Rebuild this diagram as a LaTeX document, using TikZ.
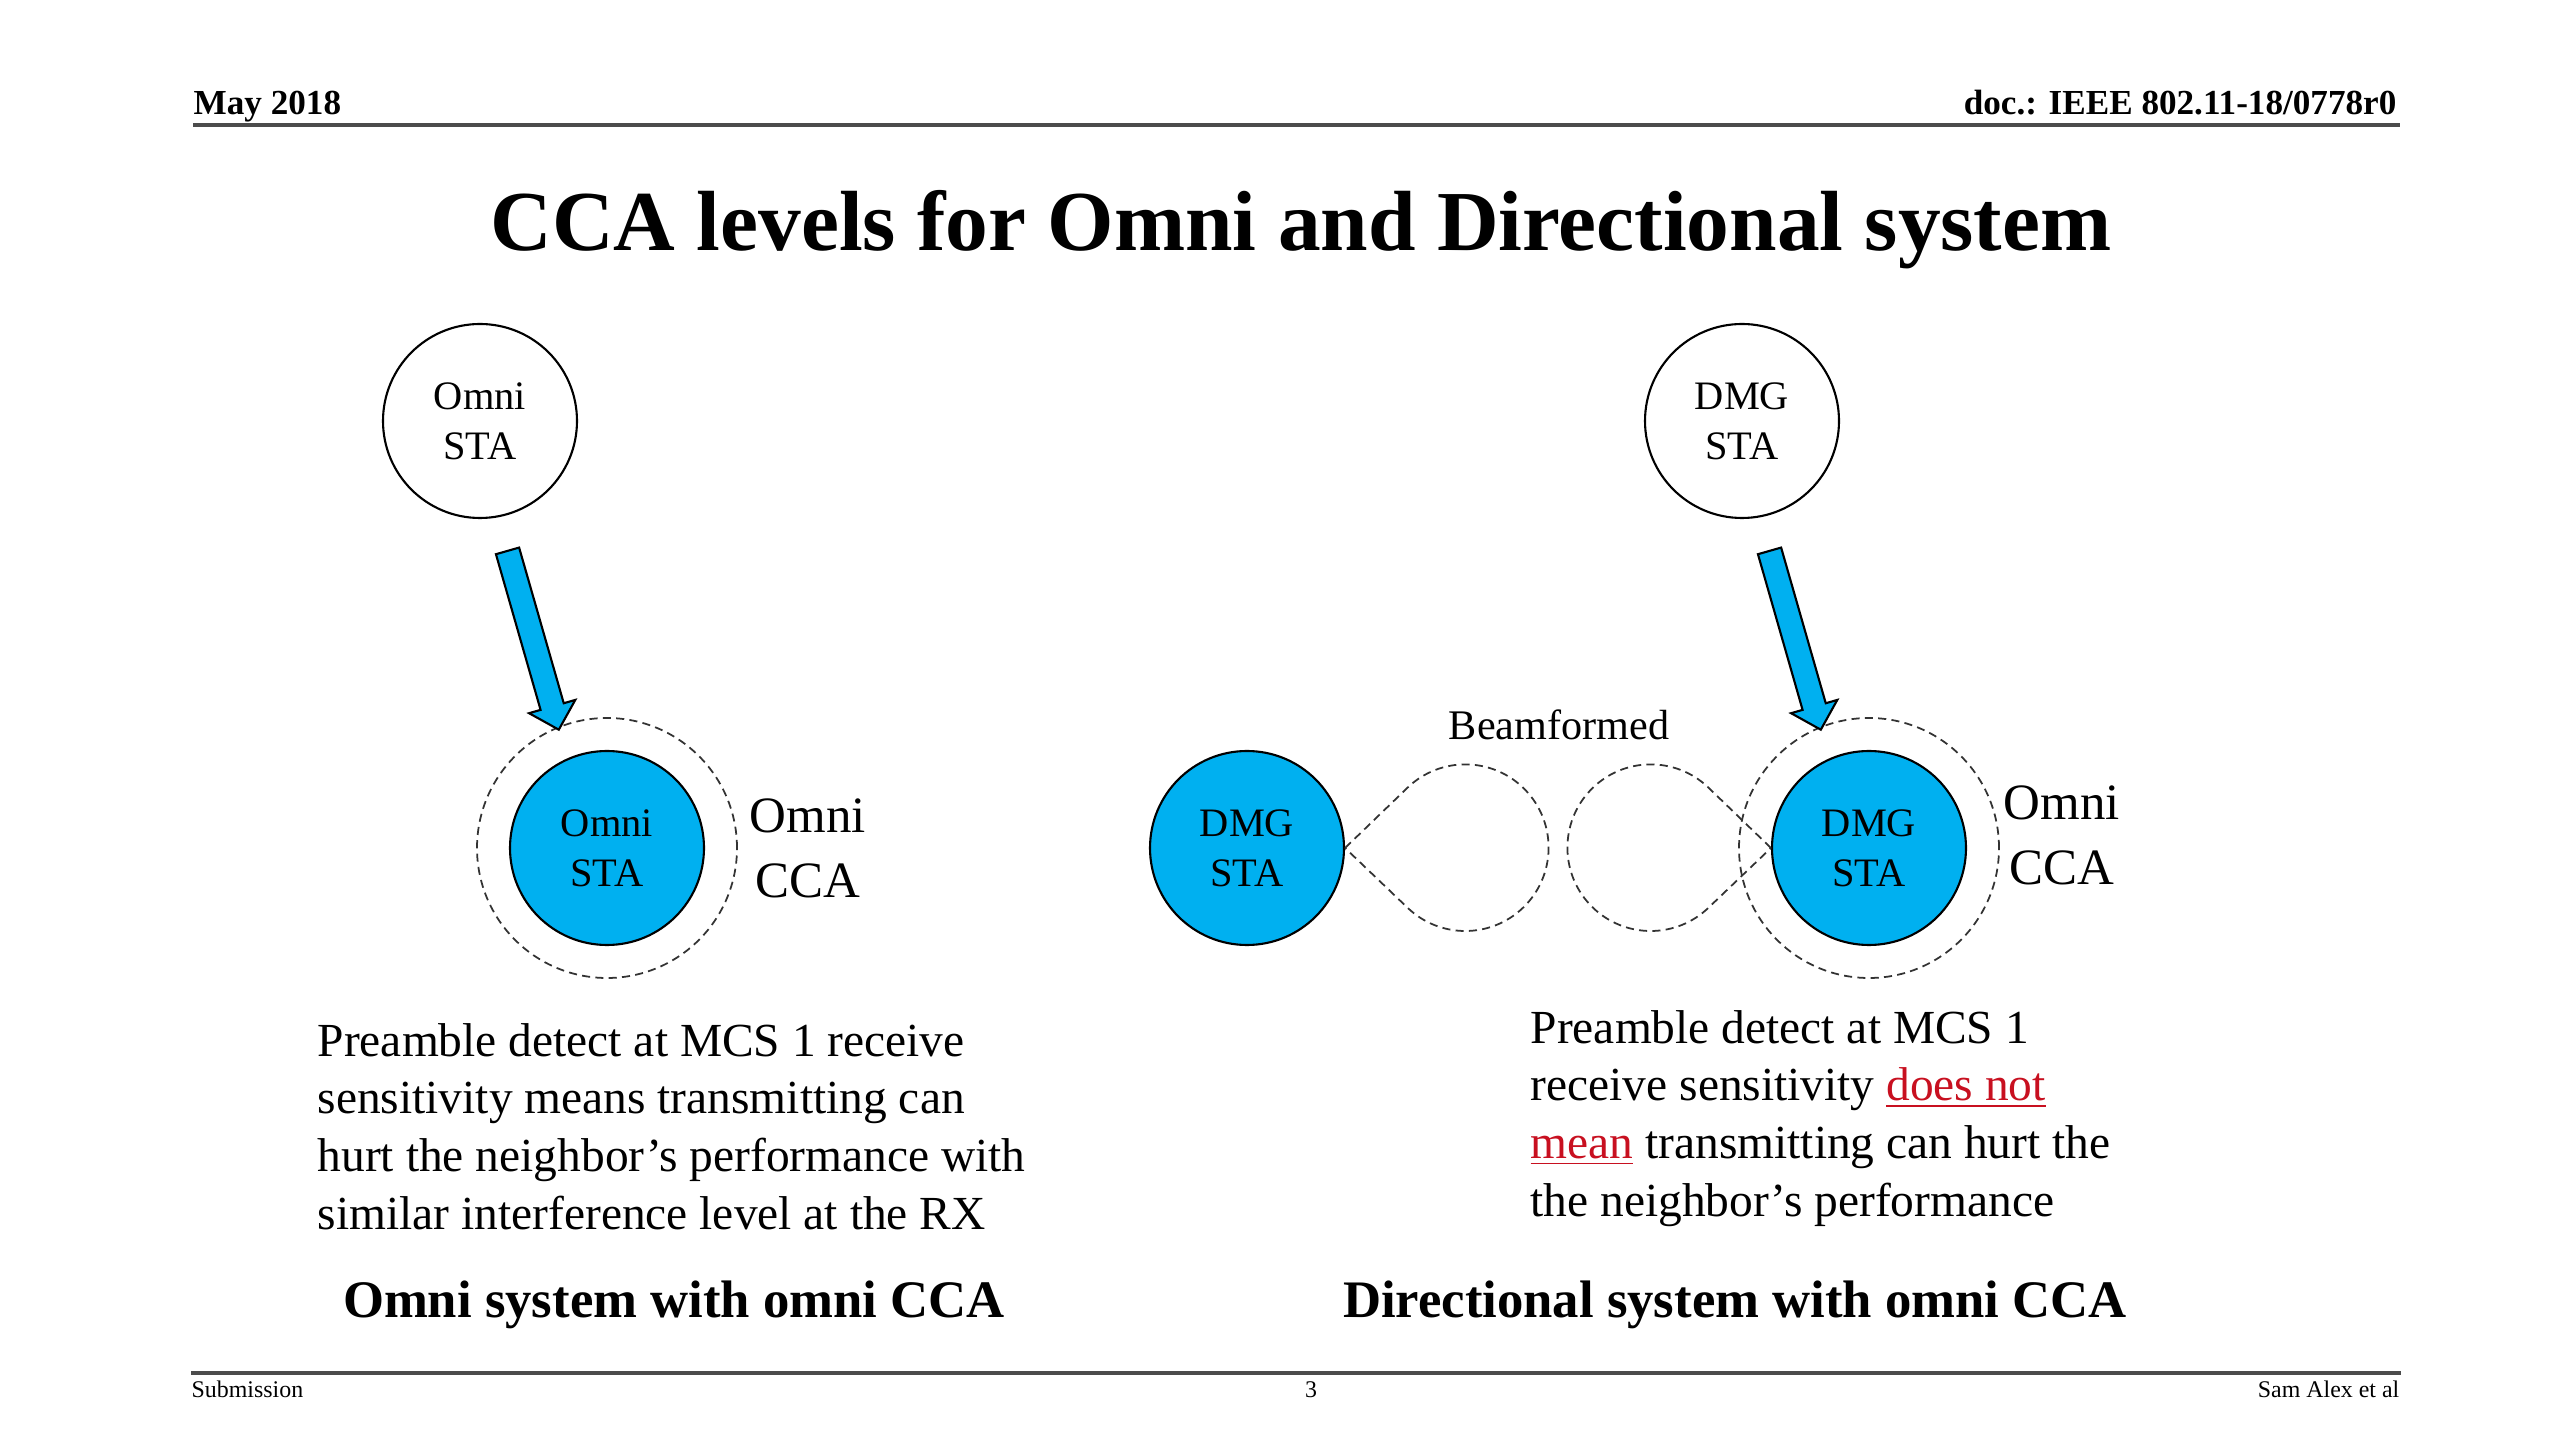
\documentclass[tikz,border=0pt]{standalone}
\usepackage{fontspec}
\setmainfont{Liberation Serif}
\usepackage{xcolor}
\usetikzlibrary{shapes,shapes.arrows,calc,positioning}

\definecolor{stablue}{HTML}{00B0F0}
\definecolor{notred}{HTML}{C81020}
\newcommand{\redul}[1]{{\color{notred}\underline{#1}}}

\begin{document}
\begin{tikzpicture}
  \tikzset{ sta/.style={circle,draw,line width=0.6pt,inner sep=0pt,minimum size=1.94cm,align=center,font=\fontsize{11.5}{14.2}\selectfont},
    blue sta/.style={sta,fill=stablue},
    ring/.style={circle,draw=black!80,line width=0.5pt,dash pattern=on 2.3pt off 1.5pt,inner sep=0pt,minimum size=2.6cm},
    lobe/.style={draw=black!80,line width=0.5pt,dash pattern=on 2.3pt off 1.5pt},
    beam arrow/.style={single arrow,draw,line width=0.6pt,fill=stablue,inner xsep=0pt,inner ysep=0.11cm,minimum height=1.86cm,minimum width=0.46cm,single arrow head extend=0.12cm},
    cca/.style={align=center,inner sep=0pt,font=\fontsize{14.5}{18.5}\selectfont},
    para/.style={align=left,inner sep=0pt,anchor=north west,font=\fontsize{13.5}{16.4}\selectfont},
    syscap/.style={anchor=base,inner sep=0pt,font=\bfseries\fontsize{15}{18}\selectfont},
    head/.style={inner sep=0pt,font=\bfseries\fontsize{10}{12}\selectfont},
    foot/.style={inner sep=0pt,font=\fontsize{6.8}{8}\selectfont},
  }
  \fill[white] (0,0) rectangle (25.6,14.4);
  \useasboundingbox (0,0) rectangle (25.6,14.4);

  % header and footer
  \node[head,anchor=base west] (date) at (1.93,13.25) {May 2018};
  \node[head,anchor=base east] (docid) at (23.97,13.25) {doc.: IEEE 802.11-18/0778r0};
  \draw[line width=0.9pt,black!70] (1.93,13.15) -- (24.00,13.15);
  \draw[line width=0.9pt,black!70] (1.91,0.67) -- (24.01,0.67);
  \node[foot,anchor=base west] (subm) at (1.91,0.43) {Submission};
  \node[foot,anchor=base] (page) at (13.11,0.43) {3};
  \node[foot,anchor=base east] (authors) at (24.00,0.43) {Sam Alex et al};

  \node[anchor=base,inner sep=0pt,font=\bfseries\fontsize{24.3}{29}\selectfont] (title) at (13.01,11.89) {CCA levels for Omni and Directional system};

  % omni system
  \node[sta] (omniTop) at (4.80,10.19) {Omni\\STA};
  \node[blue sta] (omniSTA) at (6.07,5.92) {Omni\\STA};
  \node[ring] (omniRing) at (omniSTA) {};
  \node[cca,right=0.11cm of omniRing] (omniCCA) {Omni\\CCA};
  \node[beam arrow,rotate=-74] (omniArrow) at ($(omniTop)!0.5!(omniSTA)+(-0.12,0)$) {};

  % directional system
  \node[sta] (dmgTop) at (17.42,10.19) {DMG\\STA};
  \node[blue sta] (dmgR) at (18.69,5.92) {DMG\\STA};
  \node[blue sta] (dmgL) at (12.47,5.92) {DMG\\STA};
  \node[ring] (dmgRing) at (dmgR) {};
  \node[cca,right=0.03cm of dmgRing,yshift=0.13cm] (dmgCCA) {Omni\\CCA};
  \node[beam arrow,rotate=-74] (dmgArrow) at ($(dmgTop)!0.5!(dmgR)+(-0.12,0)$) {};

  % the two beams between the DMG stations
  \draw[lobe] (dmgL.east) -- ++(44:0.867) arc[start angle=134,end angle=-134,radius=0.833] -- cycle;
  \draw[lobe] (dmgR.west) -- ++(136:0.867) arc[start angle=46,end angle=314,radius=0.833] -- cycle;
  \node[anchor=base,inner sep=0pt,font=\fontsize{12}{14}\selectfont] (beam) at (15.59,7.00) {Beamformed};

  \node[para] (omniText) at (3.17,4.175) {Preamble detect at MCS 1 receive\\sensitivity means transmitting can\\hurt the neighbor’s performance with\\similar interference level at the RX};
  \node[para] (dmgText) at (15.30,4.305) {Preamble detect at MCS 1\\receive sensitivity \redul{does not}\\\redul{mean} transmitting can hurt the\\the neighbor’s performance};

  \node[syscap] (omniCap) at (6.74,1.23) {Omni system with omni CCA};
  \node[syscap] (dmgCap) at (17.35,1.23) {Directional system with omni CCA};
\end{tikzpicture}
\end{document}
